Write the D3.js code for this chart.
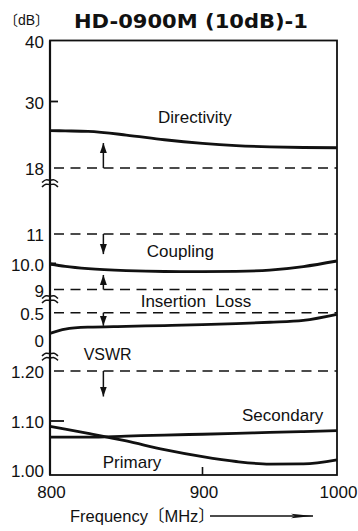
<!DOCTYPE html>
<html lang="en">
<head>
    <meta charset="UTF-8">
    <title>HD-0900M (10dB)-1</title>
    <script src="https://d3js.org/d3.v7.min.js"></script>
    <style>
        body { margin: 0; background: #fff; }
        svg text { font-family: "Liberation Sans", Arial, "Noto Sans CJK JP", sans-serif; fill: #111; }
    </style>
</head>
<body>
    <svg id="chart" width="358" height="531"></svg>
    <script>
        // frequency grid (MHz) and the curves
        const freqs = [800, 810, 825, 850, 875, 900, 925, 950, 975, 1000];
        const directivity = [24.75, 24.7, 24.6, 23.95, 23.1, 22.45, 22.05, 21.82, 21.7, 21.65];
        const coupling = [10.0, 9.91, 9.82, 9.74, 9.705, 9.7, 9.71, 9.76, 9.9, 10.1];
        const insertionLoss = [0.12, 0.2, 0.235, 0.25, 0.265, 0.28, 0.3, 0.325, 0.36, 0.47];
        const vswrPrimary = [1.09, 1.085, 1.077, 1.063, 1.047, 1.034, 1.025, 1.0202, 1.0206, 1.028];
        const vswrSecondary = [1.07, 1.07, 1.07, 1.072, 1.074, 1.0755, 1.077, 1.079, 1.0805, 1.082];

        // tick values / labels per axis section
        const dirTicks = [18, 30, 40];
        const dirTickLabels = ["18", "30", "40"];
        const coupTicks = [9, 10, 11];
        const coupTickLabels = ["9", "10.0", "11"];
        const ilTicks = [0, 0.5];
        const ilTickLabels = ["0", "0.5"];
        const vswrTicks = [1.0, 1.1, 1.2];
        const vswrTickLabels = ["1.00", "1.10", "1.20"];
        const xTicks = [800, 900, 1000];

        // spec limits (dashed) and the arrows pointing to the good side
        const specSections = ["dir", "coup", "coup", "il", "vswr"];
        const specLimits = [18, 11, 9, 0.5, 1.2];
        const specArrowTips = [22.5, 10.33, 9.57, 0.26, 1.149];
        const specArrowFreq = 835;

        const labelTexts = ["Directivity", "Coupling", "Insertion  Loss", "VSWR", "Secondary", "Primary"];
        const labelSections = ["dir", "coup", "il", "vswr", "vswr", "vswr"];
        const labelFreqs = [895, 885.5, 895.7, 837.8, 959.6, 853.8];
        const labelValues = [26.1, 10.22, 0.61, 1.222, 1.1, 1.0124];

        const svg = d3.select("#chart");
        const pLeft = 50, pRight = 337, pTop = 40.5, pBottom = 475;

        const x = d3.scaleLinear().domain([800, 900, 1000]).range([pLeft, 202.5, pRight]);
        const y = {
            dir: d3.scaleLinear().domain([18, 30, 40]).range([168, 101.5, pTop]),
            coup: d3.scaleLinear().domain([9, 10, 11]).range([289.5, 264, 234]),
            il: d3.scaleLinear().domain([0, 0.5]).range([340, 312.7]),
            vswr: d3.scaleLinear().domain([1.0, 1.1, 1.2]).range([pBottom, 421, 371])
        };

        const defs = svg.append("defs");
        defs.append("marker")
            .attr("id", "head")
            .attr("markerUnits", "userSpaceOnUse")
            .attr("viewBox", "0 0 10 8")
            .attr("refX", 10).attr("refY", 4)
            .attr("markerWidth", 10).attr("markerHeight", 8)
            .attr("orient", "auto")
            .append("path").attr("d", "M0,0.5L10,4L0,7.5Z").attr("fill", "#111");
        defs.append("marker")
            .attr("id", "longHead")
            .attr("markerUnits", "userSpaceOnUse")
            .attr("viewBox", "0 0 22 6")
            .attr("refX", 22).attr("refY", 3)
            .attr("markerWidth", 22).attr("markerHeight", 6)
            .attr("orient", "auto")
            .append("path").attr("d", "M0,0.8L22,3L0,5.2L4,3Z").attr("fill", "#111");

        // frame
        svg.append("rect")
            .attr("x", pLeft).attr("y", pTop)
            .attr("width", pRight - pLeft).attr("height", pBottom - pTop)
            .attr("fill", "none").attr("stroke", "#111").attr("stroke-width", 1.8);
        svg.append("line")
            .attr("x1", pLeft).attr("x2", pLeft).attr("y1", pTop).attr("y2", pBottom)
            .attr("stroke", "#111").attr("stroke-width", 2.2);

        // dashed spec lines
        svg.selectAll(".spec")
            .data(specLimits)
            .enter()
            .append("line")
            .attr("x1", pLeft + 4).attr("x2", pRight)
            .attr("y1", (d, i) => y[specSections[i]](d))
            .attr("y2", (d, i) => y[specSections[i]](d))
            .attr("stroke", "#111").attr("stroke-width", 1.6)
            .attr("stroke-dasharray", "10,6.5");

        svg.selectAll(".specArrow")
            .data(specLimits)
            .enter()
            .append("line")
            .attr("x1", x(specArrowFreq)).attr("x2", x(specArrowFreq))
            .attr("y1", (d, i) => y[specSections[i]](d))
            .attr("y2", (d, i) => y[specSections[i]](specArrowTips[i]))
            .attr("stroke", "#111").attr("stroke-width", 1.5)
            .attr("marker-end", "url(#head)");

        // curves
        const curves = [
            {sec: "dir", vals: directivity},
            {sec: "coup", vals: coupling},
            {sec: "il", vals: insertionLoss},
            {sec: "vswr", vals: vswrPrimary},
            {sec: "vswr", vals: vswrSecondary}
        ];
        curves.forEach(c => {
            const line = d3.line()
                .x((d, i) => x(freqs[i]))
                .y(d => y[c.sec](d))
                .curve(d3.curveMonotoneX);
            svg.append("path")
                .attr("d", line(c.vals))
                .attr("fill", "none")
                .attr("stroke", "#111")
                .attr("stroke-width", 2.8);
        });

        // small tick marks on the left axis
        [["dir", 30, 8], ["coup", 10, 6], ["vswr", 1.1, 14]].forEach(t => {
            svg.append("line")
                .attr("x1", pLeft).attr("x2", pLeft + t[2])
                .attr("y1", y[t[0]](t[1])).attr("y2", y[t[0]](t[1]))
                .attr("stroke", "#111").attr("stroke-width", t[0] === "coup" ? 3 : 1.8);
        });
        svg.append("line")
            .attr("x1", x(900)).attr("x2", x(900))
            .attr("y1", pBottom).attr("y2", pBottom - 8)
            .attr("stroke", "#111").attr("stroke-width", 1.6);

        // y tick labels
        const yTickSets = [
            ["dir", dirTicks, dirTickLabels],
            ["coup", coupTicks, coupTickLabels],
            ["il", ilTicks, ilTickLabels],
            ["vswr", vswrTicks, vswrTickLabels]
        ];
        yTickSets.forEach(s => {
            svg.selectAll(null)
                .data(s[1])
                .enter()
                .append("text")
                .attr("x", 44)
                .attr("y", d => Math.min(y[s[0]](d) + 1.5, pBottom - 4))
                .attr("dy", "0.35em")
                .attr("text-anchor", "end")
                .style("font-size", "17px")
                .text((d, i) => s[2][i]);
        });

        // x tick labels
        svg.selectAll(".xlab")
            .data(xTicks)
            .enter()
            .append("text")
            .attr("x", d => x(d) + 1.5)
            .attr("y", pBottom + 22.5)
            .attr("text-anchor", "middle")
            .style("font-size", "17px")
            .text(d => d);

        // axis breaks
        const wave = d3.line().curve(d3.curveBasis);
        const breaks = [["dir", 15.3], ["coup", 8.63], ["il", -0.3]];
        breaks.forEach(b => {
            const by = y[b[0]](b[1]);
            [-2.2, 2.2].forEach(off => {
                const pts = [-8, -4, 0, 4, 8].map((dx, k) => [pLeft + dx, by + off + (k === 2 ? 0 : (k % 2 ? -1.8 : 1.8))]);
                svg.append("path")
                    .attr("d", wave(pts))
                    .attr("fill", "none")
                    .attr("stroke", "#111")
                    .attr("stroke-width", 1.5);
            });
        });

        // curve labels
        svg.selectAll(".lbl")
            .data(labelTexts)
            .enter()
            .append("text")
            .attr("x", (d, i) => x(labelFreqs[i]))
            .attr("y", (d, i) => y[labelSections[i]](labelValues[i]))
            .attr("text-anchor", "middle")
            .style("font-size", d => d === "VSWR" ? "16px" : "17px")
            .style("white-space", "pre")
            .text(d => d);

        // title and units
        svg.append("text")
            .attr("x", 74).attr("y", 27.5)
            .attr("textLength", 234).attr("lengthAdjust", "spacingAndGlyphs")
            .style("font-family", "'DejaVu Sans', sans-serif")
            .style("font-size", "20px").style("font-weight", "bold")
            .text("HD-0900M (10dB)-1");
        svg.append("text")
            .attr("x", 4).attr("y", 25)
            .style("font-size", "14px")
            .text("〔dB〕");

        svg.append("text")
            .attr("x", 70).attr("y", 522)
            .style("font-size", "16.5px")
            .text("Frequency〔MHz〕");
        svg.append("line")
            .attr("x1", 210).attr("x2", 313)
            .attr("y1", 516).attr("y2", 516)
            .attr("stroke", "#111").attr("stroke-width", 1.5)
            .attr("marker-end", "url(#longHead)");
    </script>
</body>
</html>
